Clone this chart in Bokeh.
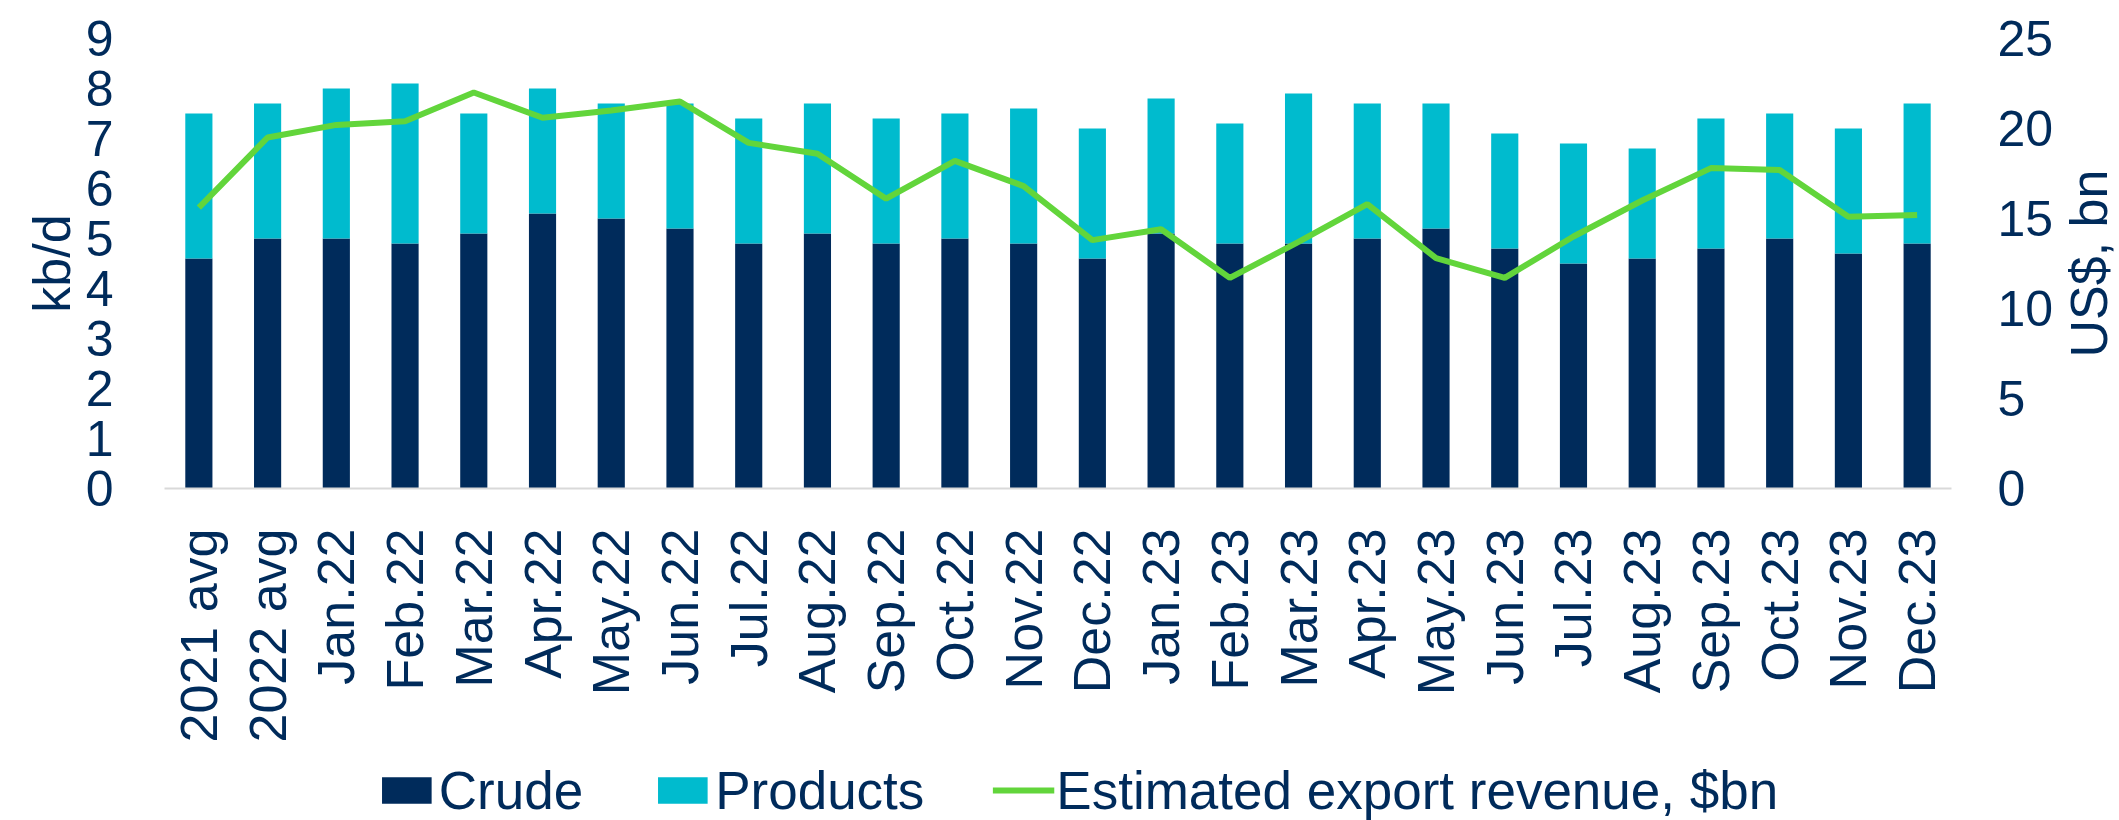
import math
from bokeh.plotting import figure
from bokeh.layouts import row, column
from bokeh.models import (ColumnDataSource, FactorRange, Range1d, LinearAxis,
                          FixedTicker, Legend, LegendItem)
from bokeh.core.properties import value
from bokeh.embed import file_html
from bokeh.resources import INLINE

categories = ["2021 avg", "2022 avg", "Jan.22", "Feb.22", "Mar.22", "Apr.22", "May.22",
              "Jun.22", "Jul.22", "Aug.22", "Sep.22", "Oct.22", "Nov.22", "Dec.22",
              "Jan.23", "Feb.23", "Mar.23", "Apr.23", "May.23", "Jun.23", "Jul.23",
              "Aug.23", "Sep.23", "Oct.23", "Nov.23", "Dec.23"]
crude = [4.6, 5.0, 5.0, 4.9, 5.1, 5.5, 5.4, 5.2, 4.9, 5.1, 4.9, 5.0, 4.9,
         4.6, 5.1, 4.9, 4.9, 5.0, 5.2, 4.8, 4.5, 4.6, 4.8, 5.0, 4.7, 4.9]
products = [2.9, 2.7, 3.0, 3.2, 2.4, 2.5, 2.3, 2.5, 2.5, 2.6, 2.5, 2.5, 2.7,
            2.6, 2.7, 2.4, 3.0, 2.7, 2.5, 2.3, 2.4, 2.2, 2.6, 2.5, 2.5, 2.8]
revenue = [15.6, 19.5, 20.2, 20.4, 22.0, 20.6, 21.0, 21.5, 19.2, 18.6, 16.1, 18.2, 16.8,
           13.8, 14.4, 11.7, 13.7, 15.8, 12.8, 11.7, 14.0, 16.0, 17.8, 17.7, 15.1, 15.2]
left_ticks = [0, 1, 2, 3, 4, 5, 6, 7, 8, 9]
right_ticks = [0, 5, 10, 15, 20, 25]
left_title = "kb/d"
right_title = "US$, bn"
series_names = ["Crude", "Products", "Estimated export revenue, $bn"]

NAVY = "#002B5B"
CYAN = "#00BBCE"
GREEN = "#62D53B"
AXISGRAY = "#D9D9D9"
FONT = "Liberation Sans"

MAIN_H = 759
TOP, BOTTOM = 38, MAIN_H - 488
MAIN_W = 2056

src = ColumnDataSource(dict(cat=categories, crude=crude, products=products, revenue=revenue))

p = figure(x_range=FactorRange(*categories), y_range=Range1d(0, 9),
           width=MAIN_W, height=MAIN_H, output_backend="svg", toolbar_location=None,
           min_border_left=164, min_border_right=MAIN_W - 1953, min_border_top=TOP,
           min_border_bottom=BOTTOM)
p.extra_y_ranges = {"rev": Range1d(0, 25)}

bars = p.vbar_stack(["crude", "products"], x="cat", width=0.395, color=[NAVY, CYAN],
                    line_color=None, source=src)
line = p.line(x="cat", y="revenue", y_range_name="rev", line_color=GREEN,
              line_width=6, source=src)

p.xgrid.visible = False
p.ygrid.visible = False
p.outline_line_color = None

xa = p.xaxis[0]
xa.major_label_orientation = math.pi / 2
xa.axis_line_color = AXISGRAY
xa.axis_line_width = 2
xa.major_tick_line_color = None
xa.minor_tick_line_color = None
xa.major_label_standoff = 34
xa.major_label_text_font = FONT
xa.major_label_text_font_size = "52px"
xa.major_label_text_color = NAVY

ya = p.yaxis[0]
ya.ticker = FixedTicker(ticks=left_ticks)
ya.axis_line_color = None
ya.major_tick_line_color = None
ya.minor_tick_line_color = None
ya.major_label_standoff = 45
ya.major_label_text_font = FONT
ya.major_label_text_font_size = "50px"
ya.major_label_text_color = NAVY
ya.axis_label = left_title
ya.axis_label_text_font = FONT
ya.axis_label_text_font_size = "52px"
ya.axis_label_text_font_style = "normal"
ya.axis_label_text_color = NAVY
ya.axis_label_standoff = 2

ra = LinearAxis(y_range_name="rev", ticker=FixedTicker(ticks=right_ticks))
ra.axis_line_color = None
ra.major_tick_line_color = None
ra.minor_tick_line_color = None
ra.major_label_standoff = 40
ra.major_label_text_font = FONT
ra.major_label_text_font_size = "50px"
ra.major_label_text_color = NAVY
p.add_layout(ra, "right")

# strip carrying the right-hand axis title (reads bottom-to-top)
p2 = figure(width=2119 - MAIN_W, height=MAIN_H, x_range=Range1d(0, 2119 - MAIN_W),
            y_range=Range1d(0, 1), output_backend="svg", toolbar_location=None,
            min_border_left=0, min_border_right=0, min_border_top=TOP,
            min_border_bottom=BOTTOM, x_axis_type=None, y_axis_type=None)
p2.outline_line_color = None
p2.grid.visible = False
p2.text(x=[32], y=[0.5], text=[right_title], angle=math.pi / 2,
        text_align="center", text_baseline="middle",
        text_font=value(FONT), text_font_size="52px", text_color=NAVY)

# legend strip: same series drawn out of view, only the legend shows
p3 = figure(width=2119, height=820 - MAIN_H, x_range=FactorRange(*categories),
            y_range=Range1d(100, 101), output_backend="svg", toolbar_location=None,
            min_border_left=34, min_border_right=0, min_border_top=0,
            min_border_bottom=0, x_axis_type=None, y_axis_type=None)
p3.outline_line_color = None
p3.grid.visible = False
kb = p3.vbar_stack(["crude", "products"], x="cat", width=0.395, color=[NAVY, CYAN],
                   line_color=None, source=src)
kl = p3.line(x="cat", y="revenue", line_color=GREEN, line_width=6, source=src)
legend = Legend(items=[LegendItem(label=series_names[0], renderers=[kb[0]]),
                       LegendItem(label=series_names[1], renderers=[kb[1]]),
                       LegendItem(label=series_names[2], renderers=[kl])],
                orientation="horizontal", location="center",
                border_line_color=None, background_fill_alpha=0,
                padding=0, margin=0, spacing=68,
                glyph_width=62, glyph_height=33, label_standoff=2,
                label_text_font=FONT, label_text_font_size="53px",
                label_text_color=NAVY)
p3.add_layout(legend)

layout = column(row(p, p2, spacing=0), p3, spacing=0)
open("out.html", "w").write(file_html(layout, INLINE))
